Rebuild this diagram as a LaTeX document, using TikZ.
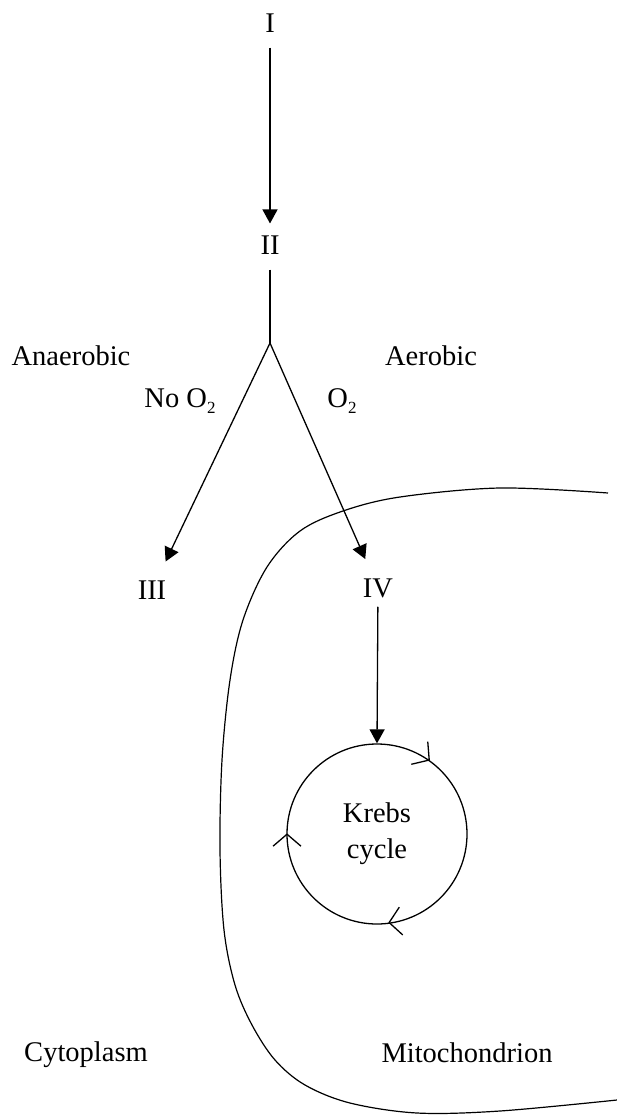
\documentclass[tikz,border=0pt]{standalone}
\usepackage{fontspec}
\setmainfont{Liberation Serif}
\usetikzlibrary{arrows.meta,decorations.markings}
\newcommand{\oxsub}{\raisebox{-0.45ex}{\fontsize{17}{17}\selectfont 2}}
\begin{document}
\begin{tikzpicture}[x=1pt,y=-1pt,
  lbl/.style={inner sep=0pt, font=\fontsize{28.5}{36}\selectfont},
  conn/.style={line width=1.3pt},
  arr/.style={conn, -{Triangle[length=14pt,width=15pt]}}
]
\useasboundingbox (0,0) rectangle (617,1115);
\fill[white] (0,0) rectangle (617,1115);

% labels
\node[lbl] (nI) at (270,23) {I};
\node[lbl] (nII) at (270,245) {II};
\node[lbl] (nIII) at (152,590) {III};
\node[lbl] (nIV) at (378,588) {IV};
\coordinate (br) at (270,343);

\node[lbl] (anaer) at (71,356) {Anaerobic};
\node[lbl] (aer) at (431,356) {Aerobic};
\node[lbl] (noo) at (180,401) {No O\oxsub};
\node[lbl] (oo) at (342,401) {O\oxsub};
\node[lbl] (cyto) at (86,1055) {Cytoplasm};
\node[lbl] (mito) at (467,1053) {Mitochondrion};

% Krebs cycle
\node[lbl, draw, circle, line width=1.3pt, minimum size=180pt, align=center] (krebs) at (377,834) {Krebs\\cycle};
\path[decoration={markings,
   mark=at position 0.1 with {\arrow{Straight Barb[length=12pt,width=28pt,line width=1.3pt]}},
   mark=at position 0.48 with {\arrow{Straight Barb[length=12pt,width=28pt,line width=1.3pt]}},
   mark=at position 0.75 with {\arrow{Straight Barb[length=12pt,width=28pt,line width=1.3pt]}}},
   postaction={decorate}]
   (krebs.north) arc[start angle=90, end angle=-270, radius=90pt];

% connectors
\draw[arr, shorten <=15pt, shorten >=12pt] (nI) -- (nII);
\draw[conn, shorten <=15pt] (nII) -- (br);
\draw[arr, shorten >=21pt] (br) -- (nIII);
\draw[arr, shorten >=21pt] (br) -- (nIV);
\draw[arr, shorten <=9pt] (nIV) -- (krebs.north);

% mitochondrion membrane
\draw[line width=1.2pt] plot[smooth, tension=0.55] coordinates {(608,493) (500,488) (400,497) (343,511) (300,531) (267,567) (243,620) (230,680) (222,760) (220,850) (224,930) (235,985) (252,1025) (275,1060) (305,1085) (350,1103) (417,1113) (500,1111) (617,1100)};
\end{tikzpicture}
\end{document}
